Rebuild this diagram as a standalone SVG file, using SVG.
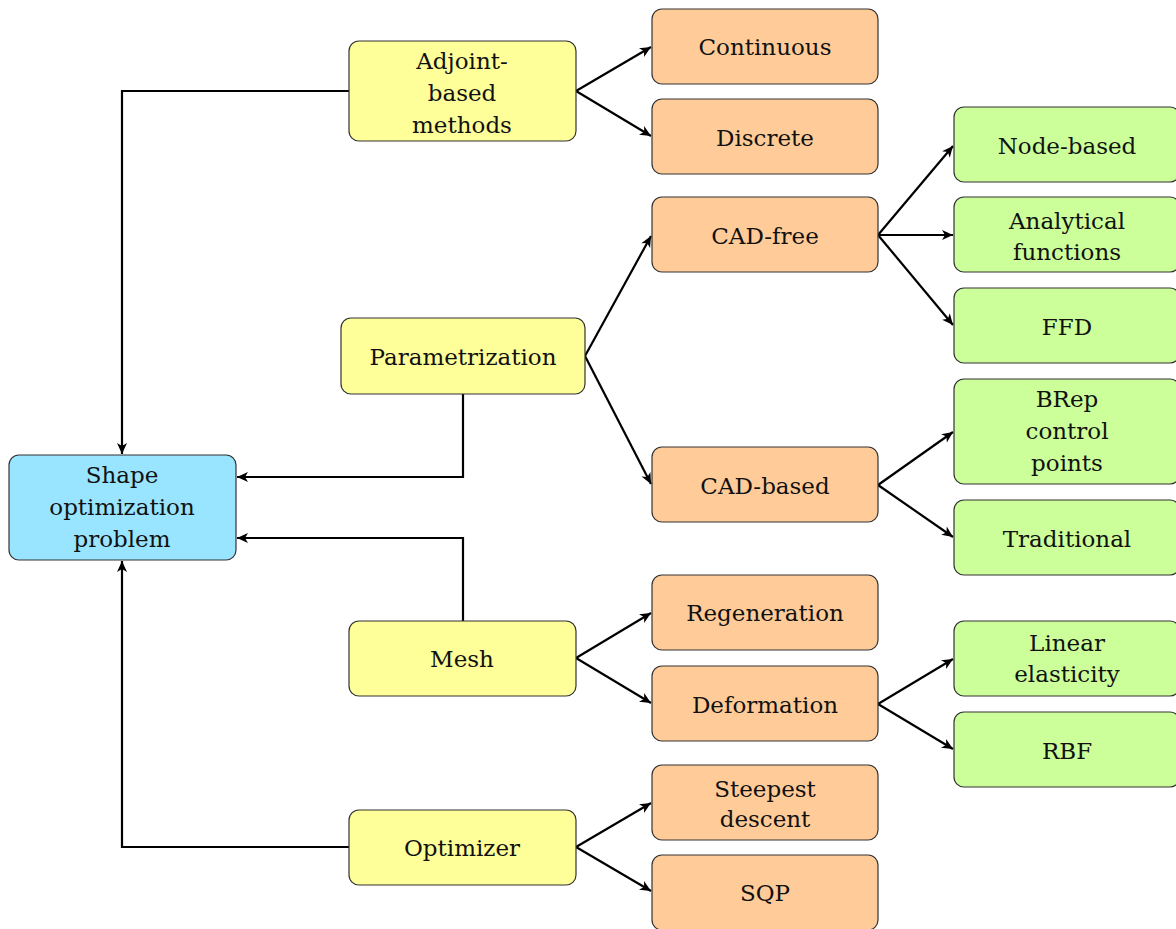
<svg xmlns="http://www.w3.org/2000/svg" width="1176" height="929" viewBox="0 0 1176 929">
<style>
.box{stroke:#333;stroke-width:1.2}
.y{fill:#ffff99}.o{fill:#ffcc99}.g{fill:#ccff99}.b{fill:#99e5ff}
text{font-family:"DejaVu Serif",serif;font-size:23px;fill:#111;text-anchor:middle;dominant-baseline:central}
.c{fill:none;stroke:#000;stroke-width:2.2;marker-end:url(#ah)}
</style>
<defs>
<marker id="ah" markerWidth="14" markerHeight="12" viewBox="-12 -6 14 12" refX="0" refY="0" orient="auto" markerUnits="userSpaceOnUse">
<path d="M0,0 L-11,-5 L-8,0 L-11,5 Z" fill="#000"/>
</marker>
</defs>
<rect width="1176" height="929" fill="#fff"/>
<g id="connectors">
<path class="c" d="M349,91 H122 V454"/>
<path class="c" d="M463,394 V477 H237"/>
<path class="c" d="M463,621 V538 H237"/>
<path class="c" d="M349,847 H122 V561"/>
<path class="c" d="M576,91 L651,47"/>
<path class="c" d="M576,91 L651,136"/>
<path class="c" d="M585,356 L651,236"/>
<path class="c" d="M585,356 L651,484"/>
<path class="c" d="M878,235 L953,146"/>
<path class="c" d="M878,235 L953,235"/>
<path class="c" d="M878,235 L953,325"/>
<path class="c" d="M878,485 L953,432"/>
<path class="c" d="M878,485 L953,537"/>
<path class="c" d="M576,658 L651,613"/>
<path class="c" d="M576,658 L651,703"/>
<path class="c" d="M878,704 L953,659"/>
<path class="c" d="M878,704 L953,749"/>
<path class="c" d="M576,847 L651,803"/>
<path class="c" d="M576,847 L651,891"/>
</g>
<g id="shape"><rect class="box b" x="9" y="455" width="227" height="105" rx="10"/><text x="122" y="475">Shape</text><text x="122" y="507">optimization</text><text x="122" y="539">problem</text></g>
<g id="adjoint"><rect class="box y" x="349" y="41" width="227" height="100" rx="10"/><text x="462" y="61">Adjoint-</text><text x="462" y="93">based</text><text x="462" y="125">methods</text></g>
<g id="param"><rect class="box y" x="341" y="318" width="244" height="76" rx="10"/><text x="463" y="357">Parametrization</text></g>
<g id="mesh"><rect class="box y" x="349" y="621" width="227" height="75" rx="10"/><text x="462" y="659">Mesh</text></g>
<g id="optimizer"><rect class="box y" x="349" y="810" width="227" height="75" rx="10"/><text x="462" y="848">Optimizer</text></g>
<g id="continuous"><rect class="box o" x="652" y="9" width="226" height="75" rx="10"/><text x="765" y="47">Continuous</text></g>
<g id="discrete"><rect class="box o" x="652" y="99" width="226" height="75" rx="10"/><text x="765" y="138">Discrete</text></g>
<g id="cadfree"><rect class="box o" x="652" y="197" width="226" height="75" rx="10"/><text x="765" y="236">CAD-free</text></g>
<g id="cadbased"><rect class="box o" x="652" y="447" width="226" height="75" rx="10"/><text x="765" y="486">CAD-based</text></g>
<g id="regeneration"><rect class="box o" x="652" y="575" width="226" height="75" rx="10"/><text x="765" y="613">Regeneration</text></g>
<g id="deformation"><rect class="box o" x="652" y="666" width="226" height="75" rx="10"/><text x="765" y="705">Deformation</text></g>
<g id="steepest"><rect class="box o" x="652" y="765" width="226" height="75" rx="10"/><text x="765" y="789">Steepest</text><text x="765" y="819">descent</text></g>
<g id="sqp"><rect class="box o" x="652" y="855" width="226" height="75" rx="10"/><text x="765" y="893">SQP</text></g>
<g id="nodebased"><rect class="box g" x="954" y="107" width="226" height="75" rx="10"/><text x="1067" y="146">Node-based</text></g>
<g id="analytical"><rect class="box g" x="954" y="197" width="226" height="75" rx="10"/><text x="1067" y="221">Analytical</text><text x="1067" y="252">functions</text></g>
<g id="ffd"><rect class="box g" x="954" y="288" width="226" height="75" rx="10"/><text x="1067" y="327">FFD</text></g>
<g id="brep"><rect class="box g" x="954" y="379" width="226" height="105" rx="10"/><text x="1067" y="399">BRep</text><text x="1067" y="431">control</text><text x="1067" y="463">points</text></g>
<g id="traditional"><rect class="box g" x="954" y="500" width="226" height="75" rx="10"/><text x="1067" y="539">Traditional</text></g>
<g id="linear"><rect class="box g" x="954" y="621" width="226" height="75" rx="10"/><text x="1067" y="643">Linear</text><text x="1067" y="674">elasticity</text></g>
<g id="rbf"><rect class="box g" x="954" y="712" width="226" height="75" rx="10"/><text x="1067" y="751">RBF</text></g>
</svg>
